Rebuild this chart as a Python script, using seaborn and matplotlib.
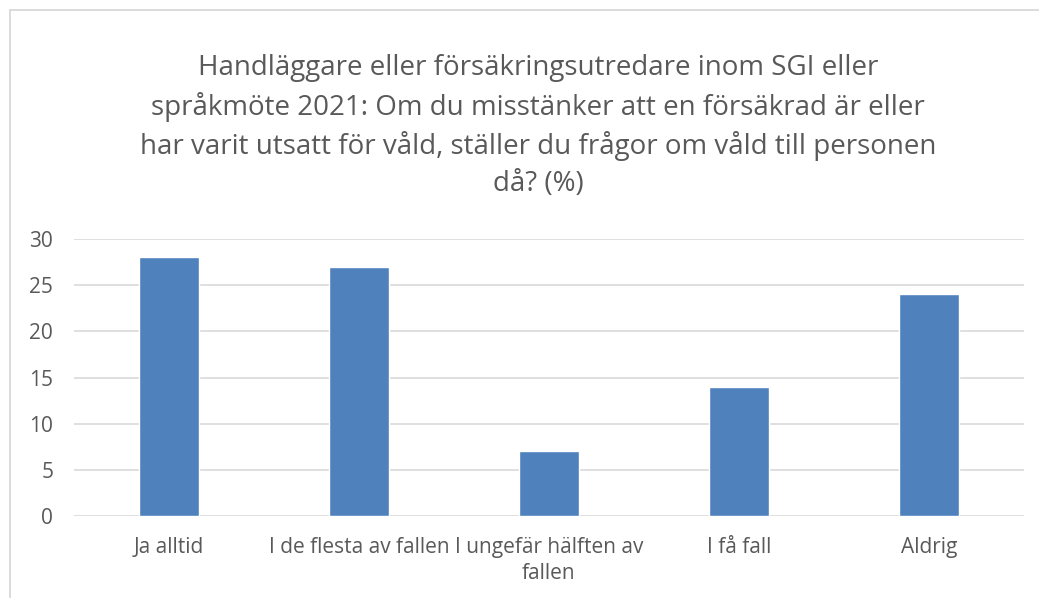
# Stapeldiagram: frågor om våld, handläggare SGI / språkmöte 2021

import pandas as pd
import matplotlib.pyplot as plt
import seaborn as sns
from matplotlib.patches import Rectangle

# data
categories = ['Ja alltid', 'I de flesta av fallen', 'I ungefär hälften av\nfallen',
              'I få fall', 'Aldrig']
values = [28, 27, 7, 14, 24]
yticks = [0, 5, 10, 15, 20, 25, 30]
title = ('Handläggare eller försäkringsutredare inom SGI eller\n'
         'språkmöte 2021: Om du misstänker att en försäkrad är eller\n'
         'har varit utsatt för våld, ställer du frågor om våld till personen\n'
         'då? (%)')

sns.set_theme(style='white')
plt.rcParams['font.family'] = ['Open Sans', 'DejaVu Sans']

W, H = 1039, 598
fig = plt.figure(figsize=(W / 100, H / 100), dpi=100)
ax = fig.add_axes([74 / W, 1 - 516 / H, 950 / W, 277 / H])

df = pd.DataFrame({'kategori': categories, 'andel': values})
sns.barplot(data=df, x='kategori', y='andel', color='#4F81BD', saturation=1,
            width=0.315, ax=ax, zorder=3)

ax.set_xlim(-0.5, len(categories) - 0.5)
ax.set_ylim(0, 30)
ax.set_yticks(yticks)
ax.yaxis.grid(True, color='#D9D9D9', lw=1.2, zorder=0)
ax.set_axisbelow(True)
for s in ax.spines.values():
    s.set_visible(False)
ax.tick_params(axis='both', length=0, colors='#595959', labelsize=15)
ax.tick_params(axis='y', pad=15)
ax.tick_params(axis='x', pad=15)
for lab in ax.get_xticklabels():
    lab.set_linespacing(1.3)
ax.set_xlabel('')
ax.set_ylabel('')

fig.text(538 / W, 1 - 54 / H, title, ha='center', va='top', fontsize=20,
         color='#595959', linespacing=1.42)

# ram runt diagrammet
fig.patches.append(Rectangle((10 / W, -0.1), 1.2, 1 - 10 / H + 0.1,
                             transform=fig.transFigure, fill=False,
                             ec='#D9D9D9', lw=1.3))

fig.savefig('out.png', dpi=100)
